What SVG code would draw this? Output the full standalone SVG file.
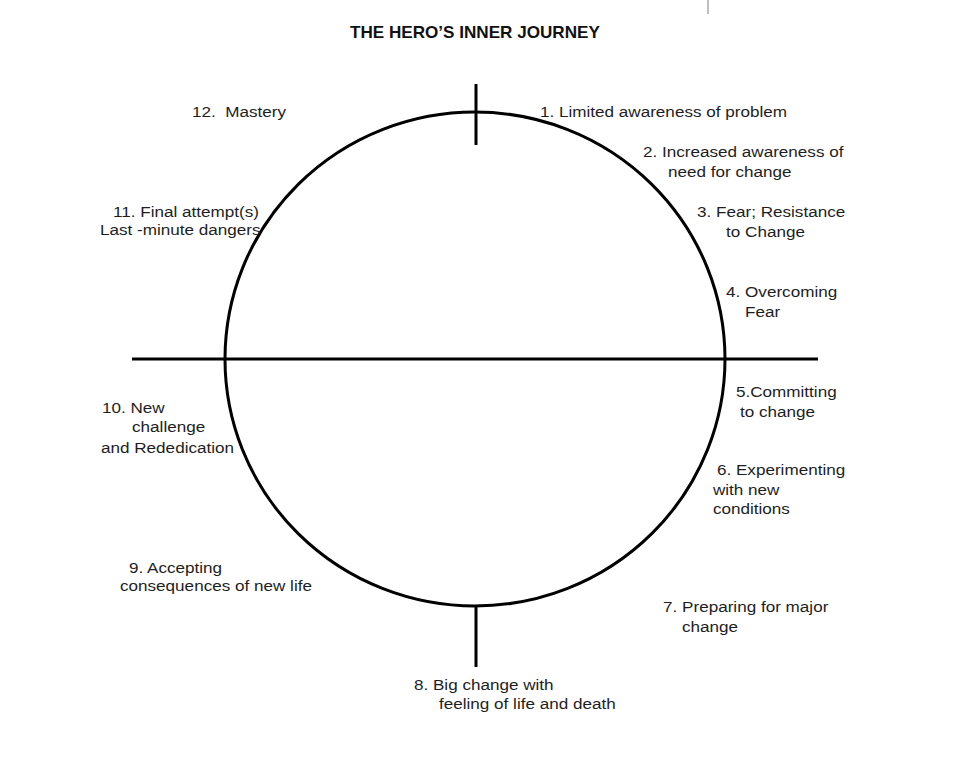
<svg xmlns="http://www.w3.org/2000/svg" width="980" height="780" viewBox="0 0 980 780">
<style>
.t{font-family:"Liberation Sans",Arial,sans-serif;font-size:14.5px;fill:#1e1e1e;white-space:pre}
.title{font-weight:bold;fill:#111;font-size:16px}
.ln{stroke:#000;stroke-width:3;fill:none}
</style>
<rect width="980" height="780" fill="#fff"/>
<line x1="708" y1="0" x2="708" y2="14" stroke="#aaa" stroke-width="1.5"/>
<g id="connectors">
<ellipse class="ln" cx="475" cy="359" rx="250" ry="247"/>
<line class="ln" x1="132" y1="359" x2="818" y2="359"/>
<line class="ln" x1="476" y1="84" x2="476" y2="145"/>
<line class="ln" x1="476" y1="605" x2="476" y2="667"/>
</g>
<g transform="scale(1.07 1)">
<text id="title" class="t title" x="327.1" y="38">THE HERO’S INNER JOURNEY</text>
</g>
<g transform="scale(1.18 1)">
<g id="n12"><text class="t" x="162.7" y="117">12.  Mastery</text></g>
<g id="n1"><text class="t" x="457.6" y="117">1. Limited awareness of problem</text></g>
<g id="n2"><text class="t" x="544.9" y="157">2. Increased awareness of</text><text class="t" x="566.1" y="177">need for change</text></g>
<g id="n3"><text class="t" x="590.7" y="217">3. Fear; Resistance</text><text class="t" x="615.3" y="237">to Change</text></g>
<g id="n4"><text class="t" x="615.3" y="297">4. Overcoming</text><text class="t" x="631.4" y="317">Fear</text></g>
<g id="n5"><text class="t" x="623.7" y="397">5.Committing</text><text class="t" x="627.1" y="417">to change</text></g>
<g id="n6"><text class="t" x="607.6" y="475">6. Experimenting</text><text class="t" x="604.2" y="495">with new</text><text class="t" x="604.2" y="514">conditions</text></g>
<g id="n7"><text class="t" x="561.9" y="612">7. Preparing for major</text><text class="t" x="578" y="632">change</text></g>
<g id="n8"><text class="t" x="350.8" y="690">8. Big change with</text><text class="t" x="372" y="709">feeling of life and death</text></g>
<g id="n9"><text class="t" x="109.3" y="573">9. Accepting</text><text class="t" x="101.7" y="591">consequences of new life</text></g>
<g id="n10"><text class="t" x="86.4" y="413">10. New</text><text class="t" x="111.9" y="432">challenge</text><text class="t" x="85.6" y="453">and Rededication</text></g>
<g id="n11"><text class="t" x="95.8" y="217">11. Final attempt(s)</text><text class="t" x="84.7" y="235">Last -minute dangers</text></g>
</g>
</svg>
